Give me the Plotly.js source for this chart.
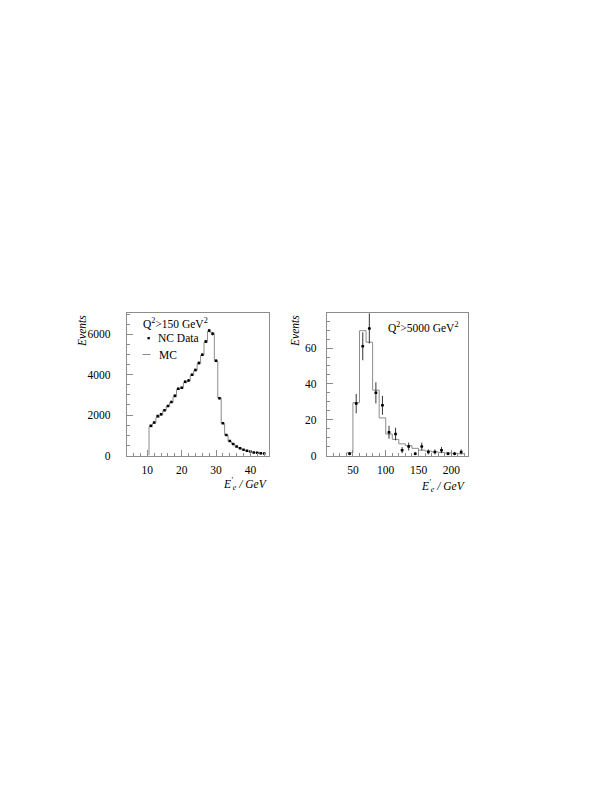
<!DOCTYPE html>
<html>
<head>
<meta charset="utf-8">
<script src="https://cdn.plot.ly/plotly-3.0.1.min.js"></script>
<style>html,body{margin:0;padding:0;background:#fff;}#chart{width:612px;height:792px;}</style>
</head>
<body>
<div id="chart"></div>
<script>
// ---- Left panel: Q^2 > 150 GeV^2, E'e in GeV, 1 GeV bins ----
var leftBinCenters = [11,12,13,14,15,16,17,18,19,20,21,22,23,24,25,26,27,28,29,30,31,32,33,34,35,36,37,38,39,40,41,42,43,44];
var leftBinWidth = 1;
var leftData = [1470,1630,1950,2040,2240,2450,2650,2960,3300,3350,3650,3710,4000,4230,4580,4990,5640,6180,6020,4690,2830,1600,1010,720,570,440,360,280,230,195,150,130,115,100];
var leftDataErr = [40,42,46,47,49,52,54,57,60,60,63,63,66,68,70,73,78,82,80,72,55,42,33,28,25,22,20,17,16,14,12,11,11,10];
var leftMC = [1420,1600,1880,2000,2220,2420,2620,2900,3280,3320,3600,3700,3960,4200,4540,4960,5600,6150,6050,4680,2850,1580,1000,700,560,430,350,280,225,190,150,128,110,95];

// ---- Right panel: Q^2 > 5000 GeV^2, 10 GeV bins ----
var rightBinCenters = [45,55,65,75,85,95,105,115,125,135,145,155,165,175,185,195,205,215];
var rightBinWidth = 10;
var rightData = [1,29,61,71,35,28,13,12,3,5,1,5,2,2,3,1,1,2];
var rightDataErr = [1,5.4,7.8,8.4,5.9,5.3,3.6,3.5,1.7,2.2,1,2.2,1.4,1.4,1.7,1,1,1.4];
var rightMC = [1.5,29.5,69.7,63.3,36.5,21,12,9,6.5,5.5,4,3,2.5,2,1.7,1.4,1.2,1];

var leftTitle = "Q<sup>2</sup>>150 GeV<sup>2</sup>";
var rightTitle = "Q<sup>2</sup>>5000 GeV<sup>2</sup>";
var legendLabels = ["NC Data", "MC"];
var yTitle = "Events";
var xTitle = "E<sup>'</sup><sub>e</sub> / GeV";

function steps(centers, width, vals) {
  var xs = [centers[0] - width/2], ys = [0];
  for (var i = 0; i < centers.length; i++) {
    xs.push(centers[i] - width/2); ys.push(vals[i]);
  }
  xs.push(centers[centers.length-1] + width/2); ys.push(vals[vals.length-1]);
  return {x: xs, y: ys};
}

var W = 612, H = 792;
function px(x){return x/W;}
function py(y){return 1 - y/H;}

var serif = "Liberation Serif, Times New Roman, serif";
var gray = "#8c8c8c";

var lS = steps(leftBinCenters, leftBinWidth, leftMC);
var rS = steps(rightBinCenters, rightBinWidth, rightMC);

var traces = [
  {x: lS.x, y: lS.y, type: "scatter", mode: "lines", name: legendLabels[1],
   line: {shape: "hv", color: gray, width: 1}, xaxis: "x", yaxis: "y"},
  {x: leftBinCenters, y: leftData, type: "scatter", mode: "markers", name: legendLabels[0],
   marker: {symbol: "square", size: 2.5, color: "#000", line: {width: 0}},
   error_y: {type: "data", array: leftDataErr, visible: true, thickness: 0.7, width: 0, color: "#000"},
   xaxis: "x", yaxis: "y"},
  {x: rS.x, y: rS.y, type: "scatter", mode: "lines", name: legendLabels[1],
   line: {shape: "hv", color: gray, width: 1}, xaxis: "x2", yaxis: "y2"},
  {x: rightBinCenters, y: rightData, type: "scatter", mode: "markers", name: legendLabels[0],
   marker: {symbol: "square", size: 2.5, color: "#000", line: {width: 0}},
   error_y: {type: "data", array: rightDataErr, visible: true, thickness: 0.8, width: 0, color: "#000"},
   error_x: {type: "constant", value: 2.2, visible: true, thickness: 0.8, width: 0, color: "#000"},
   xaxis: "x2", yaxis: "y2"}
];

function axisBase(extra) {
  var a = {
    showgrid: false, zeroline: false, showline: true, mirror: true,
    linecolor: gray, linewidth: 1, ticks: "inside", tickcolor: gray, ticklen: 6, tickwidth: 1,
    tickfont: {family: serif, size: 11.5, color: "#000"}, fixedrange: true
  };
  for (var k in extra) a[k] = extra[k];
  return a;
}

var txtFont = {family: serif, size: 11.5, color: "#000"};
var itFont = {family: serif, size: 11.5, color: "#000", style: "italic"};

var layout = {
  width: W, height: H, margin: {l: 0, r: 0, t: 0, b: 0},
  paper_bgcolor: "#fff", plot_bgcolor: "#fff",
  showlegend: false,
  xaxis: axisBase({domain: [px(126.7), px(269.3)], range: [4, 45.5], tick0: 0, dtick: 10,
    anchor: "y", ticklabelstandoff: 4,
    minor: {dtick: 2, ticklen: 3, ticks: "inside", tickcolor: gray}}),
  yaxis: axisBase({domain: [py(455.5), py(313)], range: [0, 7050], tick0: 0, dtick: 2000,
    anchor: "x", ticklabelstandoff: 13,
    minor: {dtick: 500, ticklen: 3, ticks: "inside", tickcolor: gray}}),
  xaxis2: axisBase({domain: [px(326.7), px(467.7)], range: [10, 225], tick0: 0, dtick: 50,
    anchor: "y2", ticklabelstandoff: 4,
    minor: {dtick: 10, ticklen: 3, ticks: "inside", tickcolor: gray}}),
  yaxis2: axisBase({domain: [py(455.5), py(313)], range: [0, 79.6], tick0: 0, dtick: 20,
    anchor: "x2", ticklabelstandoff: 7,
    minor: {dtick: 5, ticklen: 3, ticks: "inside", tickcolor: gray}}),
  shapes: [
    // legend glyphs (left panel)
    {type: "rect", xref: "paper", yref: "paper", x0: px(147.5), x1: px(149.8), y0: py(339.3), y1: py(337.0),
     fillcolor: "#000", line: {width: 0}},
    {type: "line", xref: "paper", yref: "paper", x0: px(142.5), x1: px(150.5), y0: py(354.5), y1: py(354.5),
     line: {color: gray, width: 1}}
  ],
  annotations: [
    {text: leftTitle, xref: "paper", yref: "paper", x: px(141), y: py(323), xanchor: "left", yanchor: "middle",
     showarrow: false, font: txtFont},
    {text: legendLabels[0], xref: "paper", yref: "paper", x: px(155.5), y: py(338.5), xanchor: "left", yanchor: "middle",
     showarrow: false, font: txtFont},
    {text: legendLabels[1], xref: "paper", yref: "paper", x: px(156.5), y: py(354.5), xanchor: "left", yanchor: "middle",
     showarrow: false, font: txtFont},
    {text: yTitle, xref: "paper", yref: "paper", x: px(82), y: py(313), xanchor: "center", yanchor: "top",
     textangle: -90, showarrow: false, font: itFont},
    {text: yTitle, xref: "paper", yref: "paper", x: px(295), y: py(313), xanchor: "center", yanchor: "top",
     textangle: -90, showarrow: false, font: itFont},
    {text: xTitle, xref: "paper", yref: "paper", x: px(270), y: py(484), xanchor: "right", yanchor: "middle",
     showarrow: false, font: itFont},
    {text: xTitle, xref: "paper", yref: "paper", x: px(468), y: py(486), xanchor: "right", yanchor: "middle",
     showarrow: false, font: itFont},
    {text: rightTitle, xref: "paper", yref: "paper", x: px(386), y: py(327), xanchor: "left", yanchor: "middle",
     showarrow: false, font: txtFont}
  ]
};

Plotly.newPlot("chart", traces, layout, {staticPlot: true, displayModeBar: false});
</script>
</body>
</html>
